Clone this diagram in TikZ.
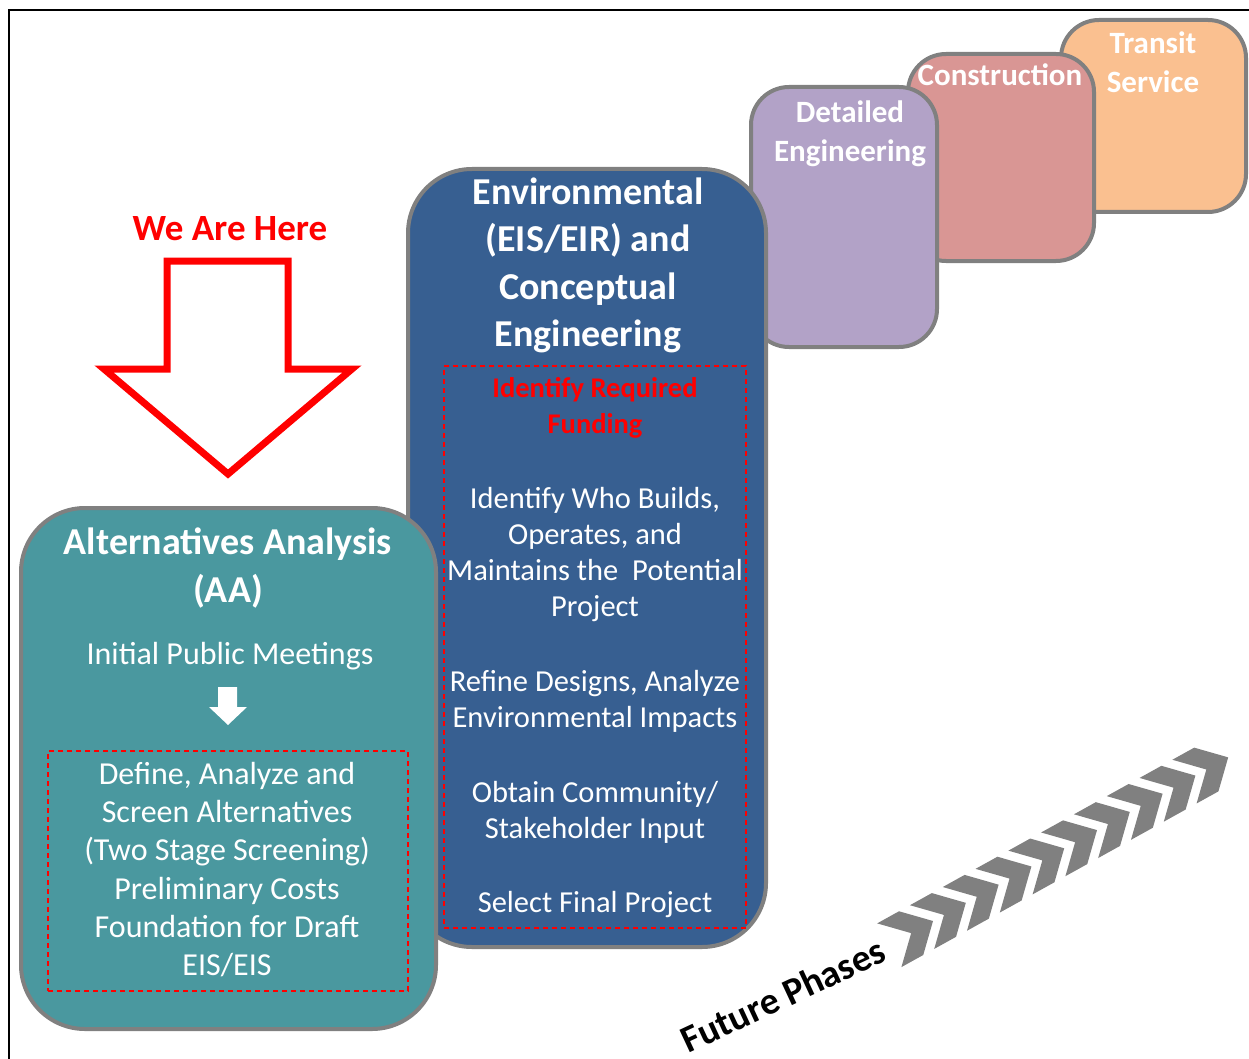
\documentclass[tikz,border=0pt]{standalone}
\usepackage{fontspec}
\setmainfont{Carlito}
\usepackage{xcolor}
\usepackage{tikz}
\usetikzlibrary{positioning}

\definecolor{aateal}{RGB}{74,152,159}
\definecolor{envblue}{RGB}{55,95,145}
\definecolor{detlilac}{RGB}{178,162,199}
\definecolor{conpink}{RGB}{217,150,148}
\definecolor{tsorange}{RGB}{250,192,144}
\definecolor{edgegray}{RGB}{128,128,128}

\begin{document}
\begin{tikzpicture}[x=1pt, y=-1pt,
   phase/.style={draw=edgegray, line width=4pt, rounded corners=38pt, inner sep=0pt},
   bigphase/.style={phase, rounded corners=64pt},
   task/.style={draw=red, line width=1.3pt, dash pattern=on 5pt off 4pt, inner sep=0pt},
   head/.style={text=white, align=center, font=\fontsize{38}{47.5}\selectfont\bfseries},
   small/.style={text=white, align=center, font=\fontsize{31}{39}\selectfont\bfseries},
   item/.style={text=white, align=center, font=\fontsize{30.5}{36}\selectfont},
   chev/.style={fill=edgegray}]
  \useasboundingbox (0,0) rectangle (1249,1059);
  % page frame, top and left only
  \draw[line width=2pt] (9,1059) -- (9,10) -- (1249,10);

  % later phases, back to front
  \node[phase, fill=tsorange, minimum width=185pt, minimum height=192pt] (ts) at (1153.5,116) {};
  \node[small] (tsT) at (1153,62) {Transit\\Service};
  \node[phase, fill=conpink, minimum width=186pt, minimum height=207pt] (con) at (1001,157.5) {};
  \node[small] (conT) at (1000,75) {Construction};
  \node[phase, fill=detlilac, minimum width=186pt, minimum height=260pt] (det) at (844,217) {};
  \node[small] (detT) at (850,133.5) {Detailed\\Engineering};

  % environmental phase
  \node[bigphase, fill=envblue, minimum width=358pt, minimum height=778pt] (env) at (587,558) {};
  \node[head] (envT) at (588,265.5) {Environmental\\(EIS/EIR) and\\Conceptual\\Engineering};
  \node[task, minimum width=302pt, minimum height=562pt] (envD) at (595,647) {};
  \node[head, text=red, font=\fontsize{28.5}{36}\selectfont\bfseries] (fund) at (595,408) {Identify Required\\Funding};
  \node[item] (who) at (595,554.5) {Identify Who Builds,\\Operates, and\\Maintains the~ Potential\\Project};
  \node[item] (refine) at (595,701) {Refine Designs, Analyze\\Environmental Impacts};
  \node[item] (obtain) at (595,812) {Obtain Community/\\Stakeholder Input};
  \node[item] (select) at (595,905) {Select Final Project};

  % current phase
  \node[bigphase, fill=aateal, minimum width=415pt, minimum height=521pt] (aa) at (228.5,768.5) {};
  \node[head, font=\fontsize{38}{48}\selectfont\bfseries] (aaT) at (228,568) {Alternatives Analysis\\(AA)};
  \node[item, font=\fontsize{32}{38}\selectfont] (meet) at (230,656) {Initial Public Meetings};
  \fill[white] (218,687) -- (237,687) -- (237,707) -- (247,707) -- (228,725) -- (209,707) -- (218,707) -- cycle;
  \node[task, minimum width=360pt, minimum height=240pt] (aaD) at (228,871) {};
  \node[item, font=\fontsize{32}{38.3}\selectfont] (screen) at (227,869.5)
       {Define, Analyze and\\Screen Alternatives\\(Two Stage Screening)\\Preliminary Costs\\Foundation for Draft\\EIS/EIS};

  % marker
  \node[text=red, font=\fontsize{37}{44}\selectfont\bfseries] (here) at (230,229) {We Are Here};
  \draw[red, line width=7pt, line join=miter]
       (167,261) -- (288,261) -- (288,369) -- (352,369) -- (228,474) -- (104,369) -- (167,369) -- cycle;

  % future phases
  \node[rotate=25, font=\fontsize{38}{44}\selectfont\bfseries] (fut) at (783,995) {Future Phases};
  \begin{scope}[shift={(933,921)}, rotate=29]
    \foreach \i in {0,...,9}
      \fill[chev, xshift=\i*37.5] (-50,25) -- (-25,25) -- (0,0) -- (-25,-25) -- (-50,-25) -- (-25,0) -- cycle;
  \end{scope}
\end{tikzpicture}
\end{document}
